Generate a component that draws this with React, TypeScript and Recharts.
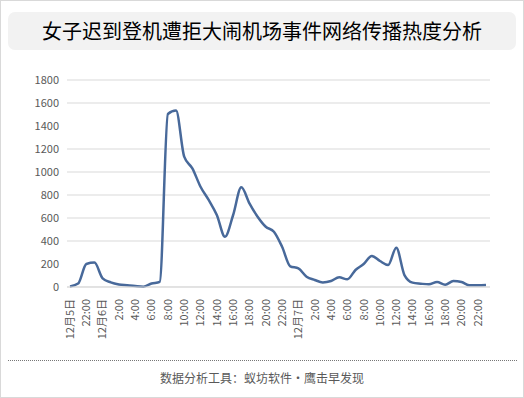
import React from "react";
import { LineChart, Line, XAxis, YAxis, CartesianGrid } from "recharts";

// hourly, from 12/5 20:00 to 12/7 23:00
const hours = [
  "12月5日", "21:00", "22:00", "23:00",
  "12月6日", "1:00", "2:00", "3:00", "4:00", "5:00", "6:00", "7:00", "8:00", "9:00", "10:00", "11:00",
  "12:00", "13:00", "14:00", "15:00", "16:00", "17:00", "18:00", "19:00", "20:00", "21:00", "22:00", "23:00",
  "12月7日", "1:00", "2:00", "3:00", "4:00", "5:00", "6:00", "7:00", "8:00", "9:00", "10:00", "11:00",
  "12:00", "13:00", "14:00", "15:00", "16:00", "17:00", "18:00", "19:00", "20:00", "21:00", "22:00", "23:00",
];

const heat = [
  5, 30, 200, 212, 75, 40, 22, 15, 8, 3, 30, 45,
  1505, 1535, 1133, 1032, 872, 757, 626, 437, 626, 867, 728, 611,
  524, 481, 350, 180, 162, 90, 61, 40, 52, 84, 67, 148,
  200, 270, 226, 191, 342, 104, 38, 29, 23, 43, 20, 52,
  43, 15, 15, 17,
];

const yTicks = [0, 200, 400, 600, 800, 1000, 1200, 1400, 1600, 1800];

const data = hours.map((h, i) => ({ hour: h, value: heat[i] }));

const FONT = '"Noto Sans CJK SC", "Liberation Sans", sans-serif';

const HourTick = (props: any) => {
  const { x, y, payload } = props;
  return (
    <g transform={`translate(${x},${y + 4})`}>
      <text
        transform="rotate(-90)"
        textAnchor="end"
        dy="0.35em"
        fontSize={11}
        fill="#595959"
        fontFamily={FONT}
      >
        {payload.value}
      </text>
    </g>
  );
};

const App: React.FC = () => {
  return (
    <div
      style={{
        position: "absolute",
        left: 0,
        top: 0,
        width: 524,
        height: 398,
        boxSizing: "border-box",
        border: "1px solid #d9d9d9",
        background: "#fff",
        fontFamily: FONT,
      }}
    >
      <div
        style={{
          position: "absolute",
          left: 7,
          top: 11,
          width: 508,
          height: 38,
          borderRadius: 7,
          background: "#f2f2f2",
          textAlign: "center",
          lineHeight: "38px",
          fontSize: 20,
          color: "#000",
        }}
      >
        女子迟到登机遭拒大闹机场事件网络传播热度分析
      </div>
      <div style={{ position: "absolute", left: -1, top: 59 }}>
        <LineChart
          width={524}
          height={287}
          data={data}
          margin={{ top: 20, right: 34, left: 0, bottom: 0 }}
        >
          <CartesianGrid vertical={false} stroke="#d9d9d9" />
          <XAxis
            dataKey="hour"
            interval={1}
            tick={<HourTick />}
            tickLine={false}
            axisLine={{ stroke: "#d9d9d9" }}
            padding={{ left: 3, right: 4 }}
            height={60}
          />
          <YAxis
            width={67}
            domain={[0, 1800]}
            ticks={yTicks}
            tickLine={false}
            axisLine={false}
            tick={{ fontSize: 11, fill: "#595959", fontFamily: FONT }}
          />
          <Line
            type="monotone"
            dataKey="value"
            stroke="#48699a"
            strokeWidth={2.5}
            dot={false}
            isAnimationActive={false}
          />
        </LineChart>
      </div>
      <div
        style={{
          position: "absolute",
          left: 7,
          top: 359,
          width: 509,
          borderTop: "1px dotted #777",
        }}
      />
      <div
        style={{
          position: "absolute",
          left: 0,
          top: 368,
          width: 522,
          textAlign: "center",
          fontSize: 12,
          color: "#595959",
        }}
      >
        数据分析工具：蚁坊软件·鹰击早发现
      </div>
    </div>
  );
};

export default App;
